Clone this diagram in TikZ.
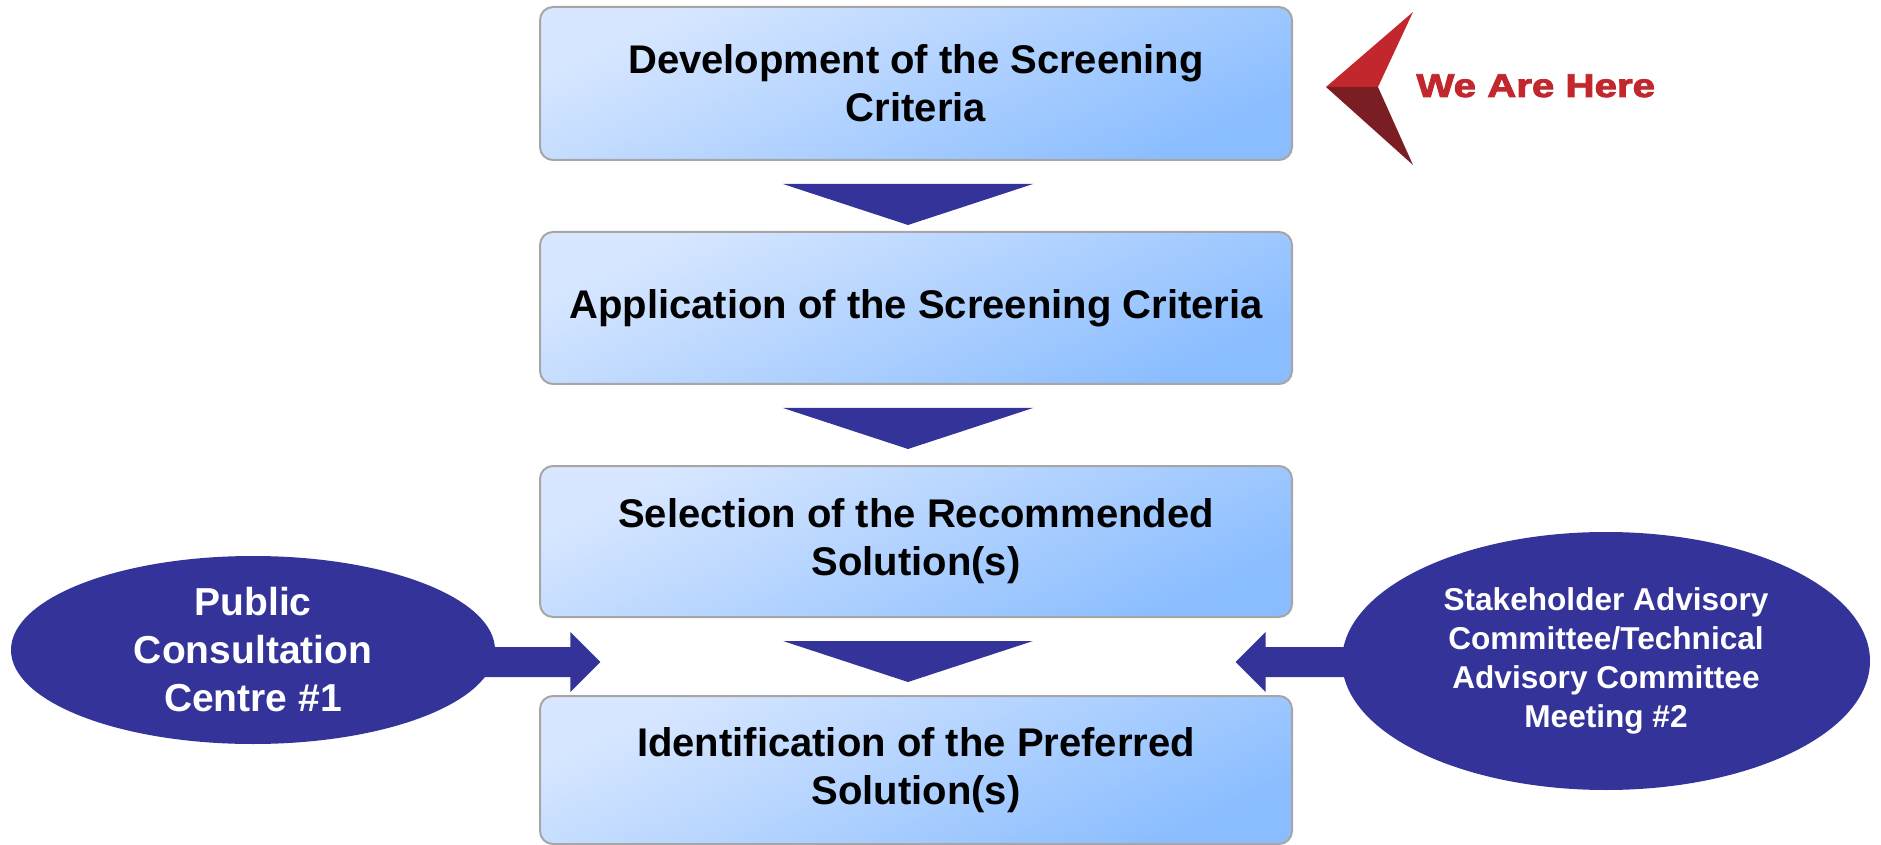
\documentclass[tikz,border=0pt]{standalone}
\usepackage{graphicx}
\usepackage{fontspec}
\setmainfont{Liberation Sans}
\newfontfamily\logofont[FakeBold=2.5]{Liberation Sans Bold}
\usetikzlibrary{shapes.geometric,calc}
\definecolor{navy}{RGB}{51,51,153}
\definecolor{boxtop}{RGB}{216,231,255}
\definecolor{boxbot}{RGB}{138,189,255}
\definecolor{boxline}{RGB}{166,166,166}
\definecolor{logored}{RGB}{193,39,45}
\definecolor{logodark}{RGB}{123,30,36}
\begin{document}
\begin{tikzpicture}[x=0.5pt,y=-0.5pt,
  stepbox/.style={draw=boxline, line width=1pt, rounded corners=6.5pt,
    top color=boxtop, bottom color=boxbot, shading angle=25,
    minimum width=376pt, align=center, inner sep=0pt,
    font=\bfseries\fontsize{20}{24}\selectfont},
  bubble/.style={ellipse, fill=navy, inner sep=0pt},
  bubbletext/.style={text=white, align=center, inner sep=0pt},
  downarrow/.style={fill=navy},
  sidearrow/.style={fill=navy}]
\useasboundingbox (0,0) rectangle (1881,845);

% step boxes
\node[stepbox, minimum height=76.5pt] (b1) at (916,83.5) {Development of the Screening\\Criteria};
\node[stepbox, minimum height=76pt] (b2) at (916,308) {Application of the Screening Criteria};
\node[stepbox, minimum height=75.5pt] (b3) at (916,541.5) {Selection of the Recommended\\Solution(s)};
\node[stepbox, minimum height=74pt] (b4) at (916,770) {Identification of the Preferred\\Solution(s)};

% down arrows between boxes
\foreach \b in {b1,b2,b3}{
  \fill[downarrow] ($(\b.south)+(-133,23)$) -- ($(\b.south)+(117,23)$) -- ($(\b.south)+(-8,64)$) -- cycle;
}

% side bubbles
\node[bubble, minimum width=242pt, minimum height=94pt] (pcc) at (253,650) {};
\node[bubbletext, font=\bfseries\fontsize{19.5}{24}\selectfont] (pcct) at (pcc.center) {Public\\Consultation\\Centre \#1};
\node[bubble, minimum width=264pt, minimum height=129pt] (sac) at (1606,661) {};
\node[bubbletext, font=\bfseries\fontsize{15.8}{19.5}\selectfont] (sact) at (sac.center) {Stakeholder Advisory\\Committee/Technical\\Advisory Committee\\Meeting \#2};

% side arrows
\fill[sidearrow] ($(pcc.east)+(-20,-3)$) -- ++(95,0) -- ++(0,-15) -- ++(30,30) -- ++(-30,30) -- ++(0,-15) -- ++(-95,0) -- cycle;
\fill[sidearrow] ($(sac.west)+(20,-14)$) -- ++(-96,0) -- ++(0,-15) -- ++(-30,30) -- ++(30,30) -- ++(0,-15) -- ++(96,0) -- cycle;

% We Are Here logo
\fill[logored] (1413,12) -- (1326,87) -- (1378,87) -- cycle;
\fill[logodark] (1326,87) -- (1413,165) -- (1378,87) -- cycle;
\node[anchor=base west, inner sep=0pt, text=logored, font=\logofont\fontsize{16.5}{19}\selectfont] (wah) at (1416,97) {\scalebox{1.22}[1]{We Are Here}};
\end{tikzpicture}
\end{document}
